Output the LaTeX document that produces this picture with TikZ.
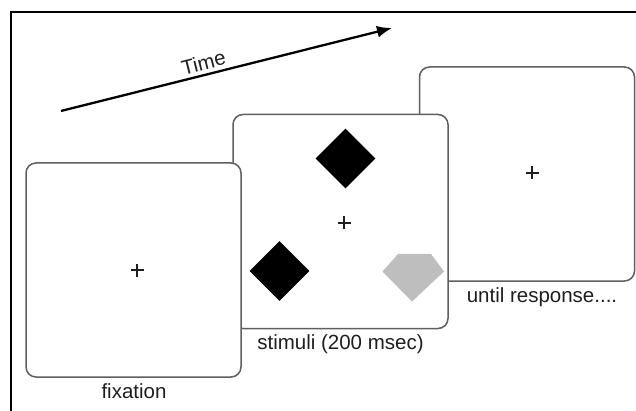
\documentclass[tikz,border=0pt]{standalone}
\usepackage{fontspec}
\setmainfont{Liberation Sans}
\usetikzlibrary{shapes.geometric,arrows.meta}
\definecolor{boxline}{RGB}{95,95,95}
\definecolor{txt}{RGB}{30,30,30}
\definecolor{gem}{RGB}{190,190,190}
\tikzset{
  screen/.style={draw=boxline, line width=1.5pt, fill=white, rounded corners=10pt,
    minimum width=215pt, minimum height=214pt, inner sep=0pt},
  lbl/.style={text=txt, font=\fontsize{20.5}{24}\selectfont, inner sep=0pt, anchor=base},
  fixcross/.style={line width=2pt, txt},
  stimdia/.style={diamond, fill=black, minimum width=60pt, minimum height=60pt, inner sep=0pt},
  frameline/.style={line width=2.6pt, black},
  timearrow/.style={line width=2.3pt, black, -{Latex[length=15pt,width=12pt]}}
}
\begin{document}
\begin{tikzpicture}[x=1pt,y=-1pt]
\useasboundingbox (0,0) rectangle (636,411);
% frame
\draw[frameline] (11,411) -- (11,12) -- (636,12);
% time arrow
\coordinate (t0) at (61,111);
\coordinate (t1) at (392,28);
\draw[timearrow] (t0) -- (t1);
\node[text=txt, font=\fontsize{20.5}{24}\selectfont, inner sep=0pt, rotate=14] (time) at (203.5,62.5) {Time};
% screens (back to front)
\node[screen] (resp) at (527,174) {};
\node[screen] (stim) at (340.5,221.5) {};
\node[screen] (fix) at (133.5,270) {};
% crosses
\foreach \n/\cx/\cy in {cf/137/270, cs/344/223, cr/532/173}{
  \coordinate (\n) at (\cx,\cy);
  \draw[fixcross] ([xshift=-6.5pt]\n) -- ([xshift=6.5pt]\n);
  \draw[fixcross] ([yshift=-6.5pt]\n) -- ([yshift=6.5pt]\n);
}
% stimuli
\node[stimdia] (d1) at (345.5,158.5) {};
\node[stimdia] (d2) at (279.5,271) {};
\fill[gem] (398,254) -- (431,254) -- (444,271.5) -- (412,301.5) -- (382.5,271.5) -- cycle;
% labels
\node[lbl] (lfix) at (134,398) {fixation};
\node[lbl] (lstim) at (340.5,349) {stimuli (200 msec)};
\node[lbl] (lresp) at (542,302.5) {until response....};
\end{tikzpicture}
\end{document}
